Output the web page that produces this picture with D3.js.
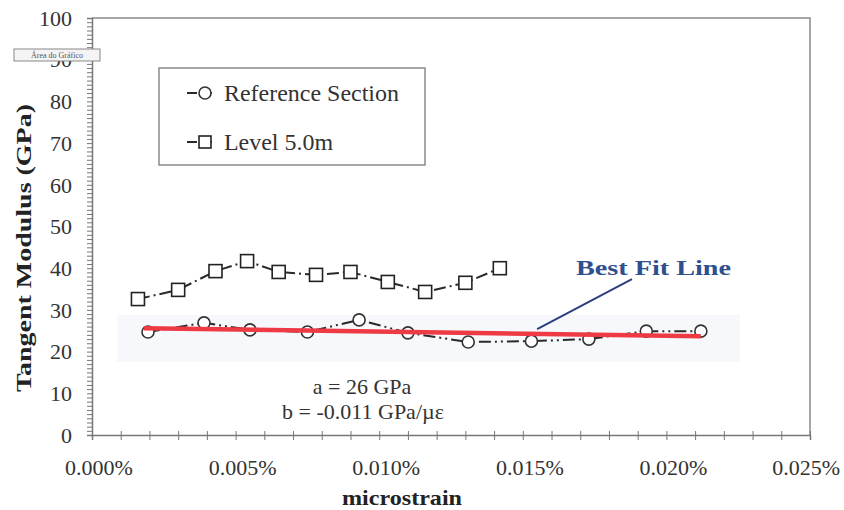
<!DOCTYPE html>
<html>
<head>
<meta charset="utf-8">
<script src="https://cdn.jsdelivr.net/npm/d3@7"></script>
<style>
  body { margin: 0; background: #fff; }
  text { font-family: "Times New Roman", "Liberation Serif", Tinos, serif; }
</style>
</head>
<body>
<svg id="chart" width="844" height="510"></svg>
<script>
// Level 5.0m series (strain in %, modulus in GPa)
var strainLevel = [0.0016, 0.0030, 0.0043, 0.0054, 0.0065, 0.0078, 0.0090, 0.0103, 0.0116, 0.0130, 0.0142];
var modLevel    = [32.6, 34.8, 39.3, 41.7, 39.1, 38.4, 39.1, 36.7, 34.3, 36.5, 40.0];

// Reference Section series
var strainRef = [0.00195, 0.0039, 0.0055, 0.0075, 0.0093, 0.0110, 0.0131, 0.0153, 0.0173, 0.0193, 0.0212];
var modRef    = [24.7, 26.9, 25.2, 24.7, 27.6, 24.5, 22.3, 22.5, 23.0, 24.9, 24.9];

// best fit line end points
var fitStrain = [0.0018, 0.0212];
var fitMod    = [25.6, 23.7];

var xTicks = [0, 0.005, 0.010, 0.015, 0.020, 0.025];
var yTicks = [0, 10, 20, 30, 40, 50, 60, 70, 80, 90, 100];
var seriesNames = ["Reference Section", "Level 5.0m"];

var svg = d3.select("#chart");

//Set the plot box
var plotLeft = 92, plotRight = 810, plotTop = 18, plotBottom = 435;

var x = d3.scaleLinear().domain([0, 0.025]).range([plotLeft, plotRight]);
var y = d3.scaleLinear().domain([0, 100]).range([plotBottom, plotTop]);

//Faint band behind reference points
svg.append("rect")
   .attr("x", 117).attr("y", 315)
   .attr("width", 623).attr("height", 47)
   .attr("fill", "#f6f8fb");

//Frame (top and right)
svg.append("path")
   .attr("d", "M" + plotLeft + "," + plotTop + "H" + plotRight + "V" + plotBottom)
   .attr("fill", "none").attr("stroke", "#8a8a8a").attr("stroke-width", 1.5);

//Y axis
var yAxis = svg.append("g")
   .attr("transform", "translate(" + plotLeft + ",0)")
   .call(d3.axisLeft(y).tickValues(d3.range(0, 101, 1)).tickSize(5).tickFormat(""));
yAxis.selectAll("line").attr("stroke", "#777");
yAxis.select(".domain").attr("stroke", "#777").attr("stroke-width", 1.5);

svg.append("g").selectAll("text")
   .data(yTicks).join("text")
   .attr("x", 72).attr("y", function(d) { return y(d); })
   .attr("dy", "0.35em")
   .attr("text-anchor", "end")
   .attr("font-size", 22).attr("fill", "#333")
   .text(function(d) { return d; });

//X axis
var xAxis = svg.append("g")
   .attr("transform", "translate(0," + plotBottom + ")")
   .call(d3.axisBottom(x).tickValues(d3.range(0, 0.02501, 0.001)).tickSize(5).tickFormat(""));
xAxis.selectAll(".tick line").attr("y1", -4).attr("stroke", "#777");
xAxis.select(".domain").attr("stroke", "#777").attr("stroke-width", 1.5);

var fmt = d3.format(".3f");
svg.append("g").selectAll("text")
   .data(xTicks).join("text")
   .attr("x", function(d, i) { return i === xTicks.length - 1 ? 840 : x(d) + 7; })
   .attr("y", 475)
   .attr("text-anchor", function(d, i) { return i === xTicks.length - 1 ? "end" : "middle"; })
   .attr("font-size", 22).attr("fill", "#333")
   .text(function(d) { return fmt(d) + "%"; });

//Axis titles
svg.append("text")
   .attr("transform", "translate(31,248) rotate(-90)")
   .attr("text-anchor", "middle")
   .attr("font-size", 22).attr("font-weight", "bold").attr("fill", "#222")
   .attr("textLength", 288).attr("lengthAdjust", "spacingAndGlyphs")
   .text("Tangent Modulus (GPa)");

svg.append("text")
   .attr("x", 402).attr("y", 505)
   .attr("text-anchor", "middle")
   .attr("font-size", 22).attr("font-weight", "bold").attr("fill", "#222")
   .attr("textLength", 120).attr("lengthAdjust", "spacingAndGlyphs")
   .text("microstrain");

//Series lines
var line = d3.line()
   .x(function(d) { return x(d[0]); })
   .y(function(d) { return y(d[1]); });

var levelData = d3.zip(strainLevel, modLevel);
var refData = d3.zip(strainRef, modRef);

svg.append("path")
   .datum(levelData)
   .attr("d", line)
   .attr("fill", "none").attr("stroke", "#2a2a2a").attr("stroke-width", 2)
   .attr("stroke-dasharray", "12,4,2,4");

svg.append("path")
   .datum(refData)
   .attr("d", line)
   .attr("fill", "none").attr("stroke", "#2a2a2a").attr("stroke-width", 2)
   .attr("stroke-dasharray", "12,4,2,4,2,4");

//Markers
svg.append("g").selectAll("rect")
   .data(levelData).join("rect")
   .attr("x", function(d) { return x(d[0]) - 6.5; })
   .attr("y", function(d) { return y(d[1]) - 6.5; })
   .attr("width", 13).attr("height", 13)
   .attr("fill", "#fff").attr("stroke", "#222").attr("stroke-width", 1.6);

svg.append("g").selectAll("circle")
   .data(refData).join("circle")
   .attr("cx", function(d) { return x(d[0]); })
   .attr("cy", function(d) { return y(d[1]); })
   .attr("r", 6)
   .attr("fill", "#fff").attr("stroke", "#333").attr("stroke-width", 1.6);

//Best fit line
svg.append("path")
   .datum(d3.zip(fitStrain, fitMod))
   .attr("d", line)
   .attr("fill", "none").attr("stroke", "#ee3a45").attr("stroke-width", 4.5);

//Best fit label and pointer
svg.append("line")
   .attr("x1", x(0.0188)).attr("y1", y(37.4))
   .attr("x2", x(0.0155)).attr("y2", y(25.4))
   .attr("stroke", "#2b3f80").attr("stroke-width", 2);

svg.append("text")
   .attr("x", x(0.01955)).attr("y", 275)
   .attr("text-anchor", "middle")
   .attr("font-size", 22).attr("font-weight", "bold").attr("fill", "#2f4f8f")
   .attr("textLength", 155).attr("lengthAdjust", "spacingAndGlyphs")
   .text("Best Fit Line");

//Fit parameters
svg.append("text")
   .attr("x", 362).attr("y", 394)
   .attr("text-anchor", "middle")
   .attr("font-size", 22).attr("fill", "#333")
   .text("a = 26 GPa");

svg.append("text")
   .attr("x", 363).attr("y", 419)
   .attr("text-anchor", "middle")
   .attr("font-size", 22).attr("fill", "#333")
   .text("b = -0.011 GPa/\u00b5\u03b5");

//Legend
var legend = svg.append("g");
legend.append("rect")
   .attr("x", 159).attr("y", 68)
   .attr("width", 266).attr("height", 97)
   .attr("fill", "#fff").attr("stroke", "#8a8a8a").attr("stroke-width", 1.5);

var legendY = [93, 142];
var legendLen = [175, 109];
legend.selectAll("line.leg")
   .data(seriesNames).join("line")
   .attr("class", "leg")
   .attr("x1", 187).attr("x2", 222)
   .attr("y1", function(d, i) { return legendY[i]; })
   .attr("y2", function(d, i) { return legendY[i]; })
   .attr("stroke", "#2a2a2a").attr("stroke-width", 2)
   .attr("stroke-dasharray", "10,13,2,20");

legend.append("circle")
   .attr("cx", 205).attr("cy", legendY[0]).attr("r", 6)
   .attr("fill", "#fff").attr("stroke", "#333").attr("stroke-width", 1.6);
legend.append("rect")
   .attr("x", 199).attr("y", legendY[1] - 6).attr("width", 12).attr("height", 12)
   .attr("fill", "#fff").attr("stroke", "#222").attr("stroke-width", 1.6);

legend.selectAll("text")
   .data(seriesNames).join("text")
   .attr("x", 224)
   .attr("y", function(d, i) { return legendY[i] + 8; })
   .attr("font-size", 23).attr("fill", "#333")
   .attr("textLength", function(d, i) { return legendLen[i]; })
   .attr("lengthAdjust", "spacingAndGlyphs")
   .text(function(d) { return d; });

//Chart-area tooltip
svg.append("rect")
   .attr("x", 14).attr("y", 49).attr("width", 86).attr("height", 12)
   .attr("fill", "#f4f4f4").attr("stroke", "#888");
svg.append("text")
   .attr("x", 57).attr("y", 58)
   .attr("text-anchor", "middle")
   .attr("font-size", 8).attr("fill", "#555")
   .text("Área do Gráfico");
</script>
</body>
</html>
